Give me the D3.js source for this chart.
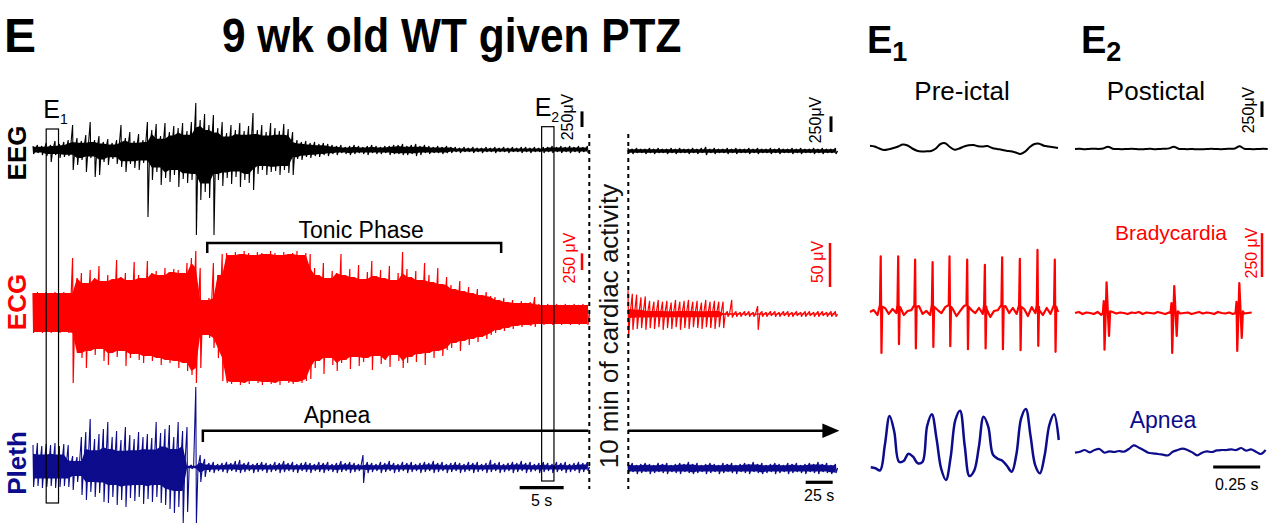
<!DOCTYPE html>
<html><head><meta charset="utf-8">
<script src="https://cdn.jsdelivr.net/npm/d3@7/dist/d3.min.js"></script>
<style>
html,body{margin:0;padding:0;background:#fff;}
svg{display:block;font-family:"Liberation Sans",Arial,Helvetica,sans-serif;}
</style></head>
<body>
<svg id="fig" width="1279" height="524"></svg>
<script>
// ===== DATA =====
// Main recording, left segment: envelope (max / min) every 0.5 s, 0–63 s
const leftStep = 0.5;
const eegLeftHi = [64,80,64,112,80,144,96,128,160,400,192,144,240,448,160,224,128,176,112,160,400,192,288,144,256,160,448,320,416,224,432,288,384,352,432,304,448,752,480,576,400,560,352,448,272,400,320,432,304,384,592,320,400,288,432,352,304,416,336,288,160,128,144,112,128,96,112,96,80,64,80,48,64,80,64,48,64,80,64,48,64,64,80,80,96,64,80,96,64,80,64,48,64,48,64,48,48,32,48,32,48,32,32,48,32,48,32,48,32,48,32,48,48,32,48,32,48,48,64,48,64,48,64,48,64,48,64];
const eegLeftLo = [-64,-48,-80,-96,-192,-80,-128,-112,-96,-320,-240,-160,-352,-128,-432,-400,-192,-240,-144,-224,-272,-352,-224,-288,-320,-208,-1072,-480,-352,-560,-448,-512,-400,-592,-464,-528,-480,-1360,-800,-672,-768,-1360,-480,-576,-448,-544,-432,-592,-480,-528,-640,-384,-320,-400,-352,-336,-400,-320,-368,-400,-144,-160,-112,-128,-96,-112,-80,-96,-64,-80,-48,-64,-80,-64,-48,-64,-80,-48,-64,-64,-48,-80,-64,-64,-80,-80,-64,-96,-80,-48,-64,-48,-48,-64,-48,-48,-32,-48,-32,-32,-48,-32,-48,-32,-32,-48,-32,-32,-48,-32,-32,-48,-32,-48,-32,-32,-48,-32,-48,-32,-48,-32,-48,-32,-48,-32,-48];
const ecgLeftHi = [300,315,300,315,300,315,300,315,300,825,525,600,450,645,525,705,480,570,510,795,540,600,495,765,570,525,780,600,630,570,675,615,660,645,600,750,825,930,675,195,225,750,570,885,900,870,915,885,930,900,870,915,900,885,930,900,870,915,885,900,930,870,900,885,675,570,750,525,630,600,885,570,660,540,720,510,615,780,555,645,525,705,495,600,915,660,540,630,495,750,570,465,675,435,540,420,360,480,330,390,300,360,270,315,255,240,195,225,165,195,150,180,150,165,240,135,120,135,120,135,120,135,120,135,120,135,120];
const ecgLeftLo = [-300,-285,-300,-285,-300,-285,-300,-285,-300,-1050,-600,-675,-825,-570,-630,-540,-720,-780,-600,-660,-570,-795,-675,-615,-705,-750,-645,-720,-675,-780,-705,-750,-720,-825,-750,-870,-930,-1050,-825,-330,-375,-525,-675,-1020,-1050,-1065,-1035,-1080,-1050,-1065,-1020,-1050,-1080,-1035,-1065,-1050,-1080,-1020,-1050,-1065,-1035,-1050,-1020,-990,-825,-720,-915,-675,-780,-870,-750,-705,-840,-660,-795,-735,-675,-855,-645,-765,-705,-810,-630,-720,-825,-750,-660,-735,-615,-780,-600,-675,-570,-645,-555,-525,-450,-570,-420,-480,-390,-435,-360,-390,-330,-300,-255,-270,-225,-240,-195,-210,-180,-195,-210,-165,-180,-165,-180,-165,-180,-165,-180,-165,-180,-165,-180];
const plethLeftHi = [22,24,21,23,22,24,21,23,22,11,10,30,35,48,28,33,38,45,30,36,27,40,32,28,35,30,33,29,45,34,38,42,30,45,36,40,2,80,12,8,4,5,3,4,5,4,6,7,4,5,3,4,5,4,3,5,4,6,4,5,3,4,5,4,3,5,4,5,3,4,6,4,5,4,3,12,5,4,3,5,4,6,4,3,5,4,5,3,4,5,4,6,4,5,3,4,5,4,3,5,4,5,3,4,7,4,5,3,4,5,4,6,4,5,3,4,5,4,3,5,4,5,3,4,5,4,5];
const plethLeftLo = [-20,-19,-21,-20,-19,-21,-20,-19,-20,-23,-15,-28,-33,-25,-30,-26,-35,-36,-30,-38,-33,-40,-31,-34,-30,-37,-32,-35,-30,-36,-38,-42,-46,-40,-56,-45,-2,-56,-15,-10,-5,-6,-4,-5,-6,-4,-5,-6,-5,-4,-6,-5,-4,-6,-5,-4,-6,-5,-4,-5,-6,-4,-5,-6,-4,-5,-6,-4,-5,-6,-5,-4,-6,-5,-4,-16,-6,-5,-4,-6,-5,-4,-6,-5,-4,-6,-5,-4,-6,-5,-4,-6,-5,-4,-6,-5,-4,-6,-5,-4,-6,-5,-4,-6,-5,-4,-6,-5,-4,-6,-5,-4,-6,-5,-4,-6,-5,-4,-6,-5,-4,-6,-5,-4,-6,-5,-4];

// Main recording, right segment (after 10 min): envelope every 4 s, 0–192 s
const rightStep = 4;
const eegRightHi = [48,32,48,32,32,48,32,48,32,32,48,32,48,32,32,48,32,48,64,32,48,32,32,48,32,48,32,32,48,32,48,32,32,48,32,48,32,32,48,32,48,32,32,48,32,48,32,32,48];
const eegRightLo = [-32,-48,-32,-32,-48,-32,-48,-32,-32,-48,-32,-48,-32,-32,-48,-32,-48,-32,-64,-32,-48,-32,-32,-48,-32,-48,-32,-32,-48,-32,-48,-32,-32,-48,-32,-48,-32,-32,-48,-32,-48,-32,-32,-48,-32,-48,-32,-32,-48];
const ecgRightHi = [27,23,22,19,20,15,14,16,14,15,13,16,14,15,16,14,15,13,16,14,15,14,14,3,16,3,2,3,3,2,9,3,2,3,3,2,3,3,2,3,2,3,3,2,3,3,2,3,3];
const ecgRightLo = [-26,-18,-17,-16,-18,-16,-17,-15,-18,-16,-17,-15,-18,-16,-17,-15,-16,-17,-15,-16,-17,-15,-16,-3,-4,-3,-3,-2,-3,-3,-18,-3,-3,-2,-3,-3,-2,-3,-3,-2,-3,-3,-2,-3,-3,-2,-3,-3,-3];
const plethRightHi = [4,5,3,4,5,4,3,5,4,5,3,4,5,4,6,4,5,3,4,5,4,3,5,4,5,3,4,5,4,6,4,5,3,4,5,4,3,5,4,5,3,4,5,4,6,4,5,3,4];
const plethRightLo = [-5,-4,-6,-5,-4,-6,-5,-4,-5,-6,-4,-5,-6,-4,-5,-6,-5,-4,-6,-5,-4,-6,-5,-4,-5,-6,-4,-5,-6,-4,-5,-6,-5,-4,-6,-5,-4,-6,-5,-4,-5,-6,-4,-5,-6,-4,-5,-6,-5];

// Insets E1 (pre-ictal) and E2 (postictal)
const eegE1Step = 0.025;
const eegE1 = [37,24,-8,-32,-19,0,24,56,40,-8,-43,-56,-53,-48,-8,64,77,16,-27,-8,24,43,48,29,24,32,0,-16,-27,-43,-53,-72,-96,-59,16,64,69,37,24,11,0];
const eegE2Step = 0.025;
const eegE2 = [0,3,-3,0,5,0,8,37,5,0,-3,0,3,0,-5,0,3,-3,0,5,10,37,5,0,-3,0,-5,-3,0,3,0,-3,0,5,8,43,5,0,-3,0,3,0];
const ecgE1NoiseStep = 0.02;
const ecgE1Noise = [0,11,-17,6,23,-11,17,-6,28,-17,6,11,-23,34,-11,6,-17,23,11,-6,28,-11,17,-23,6,34,-17,11,-6,23,-11,17,-28,6,11,-17,34,-6,23,-11,6,17,-23,28,-6,11,-17,23,-11,6,0];
const ecgE1BeatT = [0.058,0.151,0.241,0.334,0.424,0.518,0.612,0.704,0.798,0.892,0.984];
const ecgE1Peak = [317,317,298,284,317,298,269,312,303,354,298];
const ecgE1Trough = [-233,-183,-208,-199,-195,-212,-208,-212,-218,-193,-227];
const ecgE2NoiseStep = 0.02;
const ecgE2Noise = [0,6,-6,3,0,-6,6,-11,0,0,6,-3,3,0,-6,3,0,6,-6,3,0,-3,6,0,-6,3,0,6,-3,0,3,-6,0,6,-3,3,0,-6,6,0,-3,3,-6,0,6,-3,0,3];
const ecgE2BeatT = [0.16,0.52,0.866];
const ecgE2Pre = [68,57,63];
const ecgE2Trough1 = [-209,-228,-216];
const ecgE2Peak = [174,154,171];
const ecgE2Trough2 = [-131,-131,-142];
const plethE1Step = 0.025;
const plethE1 = [-7.3,-8.3,-10.3,15,44,28.3,-1.7,-1,6.3,3.3,-3.3,-2,34,45.7,21.3,-9,-20,2.7,40,49.3,14,-16,-10.7,13,43.3,33.3,5.3,1.3,-0.7,-6,-11.7,6,41.7,51,24,-5.3,-13.3,4.7,35,45.7,20];
const plethE2Step = 0.026;
const plethE2 = [-1,0,1.7,-0.7,1.7,2.7,-1,0.3,-0.3,0.7,0,2.7,6.3,4.3,1.7,-1,-1.7,-2.3,-3,-3.7,0,1.7,3,1.7,-0.7,-3.7,-1,0.3,-0.3,1.3,1.7,1.7,2.3,1.7,3.7,1,2.3,0,-2.3,1.7];

// Annotation times (s)
const e1Window = [1.5, 2.9];
const e2Window = [57.8, 59.2];
const tonicPhase = [19.8, 53.2];
const apneaStartLeft = 19.3;
const scaleBarLeft = [55.3, 60.3];   // 5 s
const scaleBarRight = [164.5, 189.5]; // 25 s
const scaleBarInset = [0.735, 0.985]; // 0.25 s

// ===== DRAWING =====
const RED = "#ff0000", NAVY = "#0c0c8c", BLACK = "#000";
const svg = d3.select("#fig");

const xL = d3.scaleLinear().domain([0, 63]).range([33, 587.4]);
const xR = d3.scaleLinear().domain([0, 192]).range([628, 835.4]);
const yEEG = d3.scaleLinear().domain([-1600, 1600]).range([250, 50]);
const yEEGR = d3.scaleLinear().domain([-1600, 1600]).range([251, 51]);
const yECG = d3.scaleLinear().domain([-1500, 1500]).range([413, 213]);
const yECGR = d3.scaleLinear().domain([-50, 50]).range([358, 270]);
const yPl = d3.scaleLinear().domain([-100, 100]).range([567, 367]);
const yPlR = d3.scaleLinear().domain([-100, 100]).range([568, 368]);

const line = d3.line();
// min/max sweeps: one vertical stroke per sample, joined along the trace
function sweeps(x, y, step, hi, lo) {
  let d = "";
  hi.forEach((h, i) => {
    const xi = x(i * step), xh = x(i * step + step * 0.5);
    d += (i === 0 ? "M" : "L") + xi + "," + y(h) + "L" + (xi + 0.6) + "," + y(lo[i]) +
      "L" + xh + "," + y(0);
  });
  return d;
}
// dense core of the trace: the part every neighbouring sweep reaches (local minimum of |envelope|)
function core(arr, f) {
  return arr.map((v, i) => {
    const nb = [arr[i - 1], v, arr[i + 1]].filter(u => u !== undefined).map(Math.abs);
    return Math.sign(v) * d3.min(nb) * f;
  });
}
function envelope(x, y, step, hi, lo, color, f) {
  const ch = core(hi, f), cl = core(lo, f);
  const a = d3.area().x((d, i) => x(i * step)).y1(d => y(d[0])).y0(d => y(d[1]));
  svg.append("path").attr("d", a(ch.map((h, i) => [h, cl[i]])))
    .attr("fill", color).attr("stroke", "none");
}
function trace(d, color, w) {
  svg.append("path").attr("d", d).attr("fill", "none").attr("stroke", color)
    .attr("stroke-width", w).attr("stroke-linejoin", "bevel");
}
function dense(x, y, step, hi, lo, color, f, w) {
  if (f > 0) envelope(x, y, step, hi, lo, color, f);
  trace(sweeps(x, y, step, hi, lo), color, w);
}

// main traces
dense(xL, yEEG, leftStep, eegLeftHi, eegLeftLo, BLACK, 0.8, 1.1);
dense(xL, yECG, leftStep, ecgLeftHi, ecgLeftLo, RED, 1, 1.2);
dense(xL, yPl, leftStep, plethLeftHi, plethLeftLo, NAVY, 0.6, 1.1);
dense(xR, yEEGR, rightStep, eegRightHi, eegRightLo, BLACK, 0.9, 1.2);
dense(xR, yECGR, rightStep, ecgRightHi, ecgRightLo, RED, 0.25, 1.2);
dense(xR, yPlR, rightStep, plethRightHi, plethRightLo, NAVY, 0.9, 1.2);

// E windows
function windowBox(w, y0, y1) {
  svg.append("rect").attr("x", xL(w[0])).attr("y", y0)
    .attr("width", xL(w[1]) - xL(w[0])).attr("height", y1 - y0)
    .attr("fill", "none").attr("stroke", BLACK).attr("stroke-width", 1.2);
}
windowBox(e1Window, 129, 503);
windowBox(e2Window, 126.7, 481);
function subLabel(x, y, main, sub, fs, sfs, w) {
  const t = svg.append("text").attr("x", x).attr("y", y).attr("font-size", fs)
    .attr("font-weight", w || "normal").attr("fill", BLACK);
  t.append("tspan").text(main);
  t.append("tspan").attr("font-size", sfs).attr("dy", fs * 0.22).text(sub);
}
subLabel(xL(e1Window[0]) - 3, 118, "E", "1", 25, 14);
subLabel(xL(e2Window[0]) - 7, 116, "E", "2", 25, 14);

// break dotted lines
[xL.range()[1] + 1.9, xR.range()[0] + 0.3].forEach(x => {
  svg.append("line").attr("x1", x).attr("x2", x).attr("y1", 134).attr("y2", 489)
    .attr("stroke", BLACK).attr("stroke-width", 2).attr("stroke-dasharray", "4,4");
});
svg.append("text").attr("transform", "translate(618,326) rotate(-90)")
  .attr("text-anchor", "middle").attr("font-size", 26).attr("fill", "#111")
  .text("10 min of cardiac activity");

// channel labels
[["EEG", 153, BLACK], ["ECG", 302, RED], ["Pleth", 463, NAVY]].forEach(([t, y, c]) => {
  svg.append("text").attr("transform", `translate(26,${y}) rotate(-90)`)
    .attr("text-anchor", "middle").attr("font-size", 26).attr("font-weight", "bold")
    .attr("fill", c).text(t);
});

// titles
svg.append("text").attr("x", 4).attr("y", 52).attr("font-size", 48).attr("font-weight", "bold").text("E");
svg.append("text").attr("transform", "translate(222,52) scale(1,1.15)").attr("font-size", 42.4)
  .attr("font-weight", "bold").text("9 wk old WT given PTZ");
subLabel(867, 53, "E", "1", 38, 27, "bold");
subLabel(1081, 53, "E", "2", 38, 27, "bold");
svg.append("text").attr("x", 962).attr("y", 100).attr("text-anchor", "middle").attr("font-size", 26).text("Pre-ictal");
svg.append("text").attr("x", 1156).attr("y", 100).attr("text-anchor", "middle").attr("font-size", 26).text("Postictal");
svg.append("text").attr("x", 1171).attr("y", 240).attr("text-anchor", "middle").attr("font-size", 21).attr("fill", RED).text("Bradycardia");
svg.append("text").attr("x", 1163).attr("y", 428).attr("text-anchor", "middle").attr("font-size", 23).attr("fill", NAVY).text("Apnea");

// brackets
const xt0 = xL(tonicPhase[0]), xt1 = xL(tonicPhase[1]);
svg.append("path").attr("d", `M${xt0},253V243H${xt1}V253`).attr("fill", "none")
  .attr("stroke", BLACK).attr("stroke-width", 2.5);
svg.append("text").attr("x", (xt0 + xt1) / 2 + 7).attr("y", 238).attr("text-anchor", "middle")
  .attr("font-size", 23).text("Tonic Phase");
const xa0 = xL(apneaStartLeft);
svg.append("path").attr("d", `M${xa0},442V430.7H${xL.range()[1] + 1}`).attr("fill", "none")
  .attr("stroke", BLACK).attr("stroke-width", 2.5);
svg.append("path").attr("d", `M${xR.range()[0]},430.7H${xR.range()[1] - 10}`).attr("fill", "none")
  .attr("stroke", BLACK).attr("stroke-width", 2.5);
const tip = xR.range()[1] + 4;
svg.append("path").attr("d", `M${tip},430.7L${tip - 17},423.5L${tip - 17},437.9Z`).attr("fill", BLACK);
svg.append("text").attr("x", 337).attr("y", 422.7).attr("text-anchor", "middle").attr("font-size", 23).text("Apnea");

// amplitude scale bars
function vBar(x, yBottom, len, color, w) {
  svg.append("line").attr("x1", x).attr("x2", x).attr("y1", yBottom).attr("y2", yBottom - len)
    .attr("stroke", color).attr("stroke-width", w);
}
function vText(x, y, t, color) {
  svg.append("text").attr("transform", `translate(${x},${y}) rotate(-90)`).attr("text-anchor", "middle")
    .attr("font-size", 16).attr("fill", color).text(t);
}
const eegLen = yEEG(0) - yEEG(250);
vBar(582, 127, eegLen, BLACK, 3); vText(573, 117, "250μV", BLACK);
vBar(831, 132, eegLen, BLACK, 3); vText(821, 120, "250μV", BLACK);
vBar(582, 270, yECG(0) - yECG(250), RED, 2.5); vText(575, 258, "250 μV", RED);
vBar(830, 287, yECGR(0) - yECGR(50), RED, 2.5); vText(823, 262, "50 μV", RED);

// time scale bars
function hBar(x0, x1, y, label, ty) {
  svg.append("line").attr("x1", x0).attr("x2", x1).attr("y1", y).attr("y2", y)
    .attr("stroke", BLACK).attr("stroke-width", 3.2);
  svg.append("text").attr("x", (x0 + x1) / 2).attr("y", ty).attr("text-anchor", "middle")
    .attr("font-size", 16).text(label);
}
hBar(xL(scaleBarLeft[0]), xL(scaleBarLeft[1]), 487.7, "5 s", 506);
hBar(xR(scaleBarRight[0]), xR(scaleBarRight[1]), 482.3, "25 s", 501);

// ===== insets =====
const xE1 = d3.scaleLinear().domain([0, 1]).range([870, 1058]);
const xE2 = d3.scaleLinear().domain([0, 1]).range([1075, 1263]);
const yE1eeg = d3.scaleLinear().domain([-800, 800]).range([198, 98]);
const yE2eeg = d3.scaleLinear().domain([-800, 800]).range([199, 99]);
const yE1ecg = d3.scaleLinear().domain([-570, 570]).range([412, 212]);
const yE2ecg = d3.scaleLinear().domain([-570, 570]).range([413, 213]);
const yE1pl = d3.scaleLinear().domain([-100, 100]).range([560, 360]);
const yE2pl = d3.scaleLinear().domain([-100, 100]).range([551.7, 351.7]);

const curvy = d3.line().curve(d3.curveCatmullRom.alpha(0.5));
function series(arr, step, x, y, t0) {
  return arr.map((v, i) => [x((t0 || 0) + i * step), y(v)]);
}
function inset(pts, color, w, smooth) {
  svg.append("path").attr("d", (smooth ? curvy : line)(pts)).attr("fill", "none")
    .attr("stroke", color).attr("stroke-width", w).attr("stroke-linejoin", "round");
}
inset(series(eegE1, eegE1Step, xE1, yE1eeg), BLACK, 2, true);
inset(series(eegE2, eegE2Step, xE2, yE2eeg), BLACK, 2, true);

// ECG insets: baseline samples + QRS points
function ecgE1Points() {
  const pts = [];
  ecgE1Noise.forEach((v, i) => {
    const t = i * ecgE1NoiseStep;
    if (!ecgE1BeatT.some(b => t > b - 0.006 && t < b + 0.008)) pts.push([t, v]);
  });
  ecgE1BeatT.forEach((b, i) => {
    pts.push([b - 0.005, 40], [b - 0.001, ecgE1Peak[i]], [b + 0.003, ecgE1Trough[i]], [b + 0.007, 30]);
  });
  return pts.sort((a, b) => a[0] - b[0]).map(p => [xE1(p[0]), yE1ecg(p[1])]);
}
function ecgE2Points() {
  const pts = [];
  ecgE2Noise.forEach((v, i) => {
    const t = i * ecgE2NoiseStep;
    if (!ecgE2BeatT.some(b => t > b - 0.014 && t < b + 0.032)) pts.push([t, v]);
  });
  ecgE2BeatT.forEach((b, i) => {
    pts.push([b - 0.012, 0], [b - 0.007, ecgE2Pre[i]], [b - 0.003, ecgE2Trough1[i]],
      [b + 0.004, 20], [b + 0.008, ecgE2Peak[i]], [b + 0.015, 0], [b + 0.021, ecgE2Trough2[i]],
      [b + 0.027, 10]);
  });
  return pts.sort((a, b) => a[0] - b[0]).map(p => [xE2(p[0]), yE2ecg(p[1])]);
}
inset(ecgE1Points(), RED, 2.2, false);
inset(ecgE2Points(), RED, 2.2, false);
inset(series(plethE1, plethE1Step, xE1, yE1pl, 0.004), NAVY, 2.5, true);
inset(series(plethE2, plethE2Step, xE2, yE2pl), NAVY, 2.2, true);

// inset scale bars
vBar(1262, 117, yE1eeg(0) - yE1eeg(250), BLACK, 3); vText(1254, 110, "250μV", BLACK);
vBar(1262, 277, yE1ecg(0) - yE1ecg(250), RED, 2.5); vText(1257, 253, "250 μV", RED);
hBar(xE2(scaleBarInset[0]), xE2(scaleBarInset[1]), 467, "0.25 s", 490);
</script>
</body></html>
